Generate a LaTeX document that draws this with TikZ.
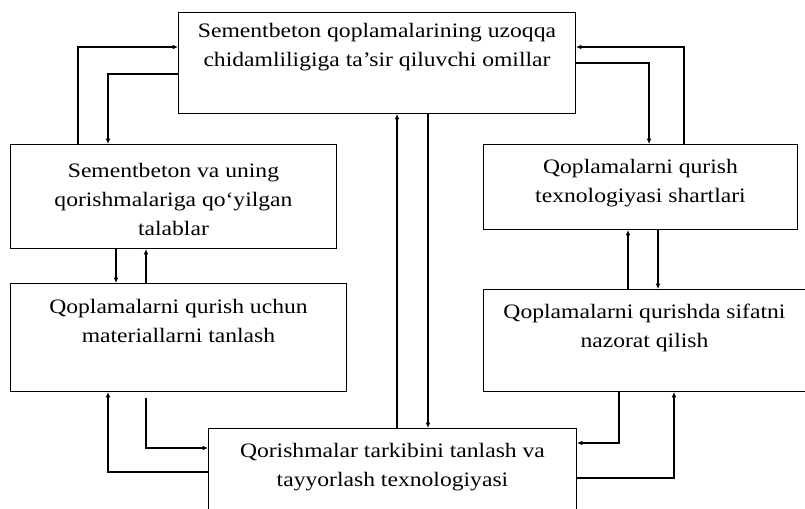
\documentclass[tikz,border=0pt]{standalone}
\usepackage{fontspec}
\setmainfont{Liberation Serif}[FakeStretch=1.15]
\usetikzlibrary{arrows.meta}
\newlength\px
\setlength\px{0.75pt}
% box text: width, height, top gap, lines
\newcommand{\boxtext}[4]{\parbox[c][#2\px][t]{#1\px}{\centering\vspace*{#3\px}#4}}

\begin{document}
\begin{tikzpicture}[x=0.75pt,y=-0.75pt,
    blk/.style={draw, line width=0.7pt, inner sep=0pt, anchor=north west,
      font=\fontsize{15.4}{21.75}\selectfont},
    arr/.style={line width=0.9pt, -{Latex[length=4pt,width=3.5pt]}}]
  \useasboundingbox (0,0) rectangle (805,508);
  %%%%% boxes %%%%%
  \node[blk] (top) at (178,12) {\boxtext{397}{101}{11}{Sementbeton qoplamalarining uzoqqa\\chidamliligiga ta’sir qiluvchi omillar}};
  \node[blk] (lft) at (10,144) {\boxtext{326}{104}{19}{Sementbeton va uning\\qorishmalariga qo‘yilgan\\talablar}};
  \node[blk] (rgt) at (483,144) {\boxtext{314}{85}{15}{Qoplamalarni qurish\\texnologiyasi shartlari}};
  \node[blk] (mat) at (10,283) {\boxtext{336}{108}{16}{Qoplamalarni qurish uchun\\materiallarni tanlash}};
  \node[blk] (ctl) at (483,289) {\boxtext{322}{102}{15}{Qoplamalarni qurishda sifatni\\nazorat qilish}};
  \node[blk] (mix) at (208,428) {\boxtext{368}{95}{15}{Qorishmalar tarkibini tanlash va\\tayyorlash texnologiyasi}};

  %%%%% connectors %%%%%
  \draw[arr] (lft.north -| 78,0) |- (top.west |- 0,47);
  \draw[arr] (top.west |- 0,74) -| (lft.north -| 108,0);
  \draw[arr] (rgt.north -| 684,0) |- (top.east |- 0,47);
  \draw[arr] (top.east |- 0,63) -| (rgt.north -| 649,0);

  \draw[arr] (lft.south -| 116,0) -- (mat.north -| 116,0);
  \draw[arr] (mat.north -| 146,0) -- (lft.south -| 146,0);
  \draw[arr] (ctl.north -| 628,0) -- (rgt.south -| 628,0);
  \draw[arr] (rgt.south -| 658,0) -- (ctl.north -| 658,0);

  \draw[arr] (mix.north -| 397,0) -- (top.south -| 397,0);
  \draw[arr] (top.south -| 428,0) -- (mix.north -| 428,0);

  \draw[arr] (mix.west |- 0,472) -| (mat.south -| 108,0);
  \draw[arr, shorten <=6\px] (mat.south -| 146,0) |- (mix.west |- 0,448);
  \draw[arr] (ctl.south -| 619,0) |- (mix.east |- 0,443);
  \draw[arr] (mix.east |- 0,478) -| (ctl.south -| 674,0);
\end{tikzpicture}
\end{document}
